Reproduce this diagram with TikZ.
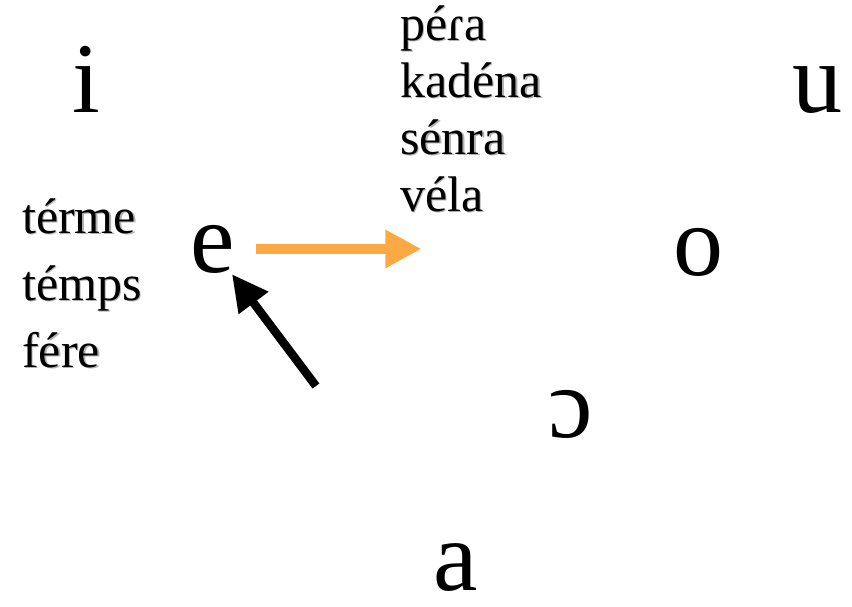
\documentclass[tikz,border=0pt]{standalone}
\usepackage{fontspec}
\setmainfont{Liberation Serif}
\usetikzlibrary{arrows.meta}

\definecolor{shiftorange}{HTML}{FBAA43}
\newcommand{\shadowword}[1]{\rlap{\kern1.5pt\raisebox{-1.5pt}{\textcolor{black!30}{#1}}}#1}

\begin{document}
\begin{tikzpicture}[
  x=1pt, y=-1pt,
  vowel/.style={anchor=base, inner sep=1pt, font=\fontsize{100}{100}\selectfont},
  word/.style={anchor=base west, inner sep=0pt, font=\fontsize{50}{50}\selectfont},
  vowelshift/.style={draw=shiftorange, line width=10pt, -{Triangle[length=36pt,width=36pt]}},
  raising/.style={draw=black, line width=8.5pt, -{Triangle[length=36pt,width=35pt]}}
]
\useasboundingbox (0,0) rectangle (852,606);
% vowels
\node[vowel] (i) at (86,112) {i};
\node[vowel] (u) at (817,112) {u};
\node[vowel] (e) at (213,272) {e};
\node[vowel] (o) at (698,275) {o};
\node[vowel] (openo) at (571,437) {ɔ};
\node[vowel] (a) at (456,590) {a};
% example words
\foreach \w [count=\k] in {péɾa,kadéna,sénra,véla}
  \node[word] (top\k) at (400,{40+57*(\k-1)}) {\shadowword{\w}};
\foreach \w [count=\k] in {térme,témps,fére}
  \node[word] (left\k) at (22,{233+67*(\k-1)}) {\shadowword{\w}};
% arrows
\coordinate (eTo) at ([xshift=185pt]e.east);
\coordinate (eFrom) at (316,386);
\draw[vowelshift] ([xshift=20pt]e.east) -- (eTo);
\draw[raising] (eFrom) -- (e);
\end{tikzpicture}
\end{document}
